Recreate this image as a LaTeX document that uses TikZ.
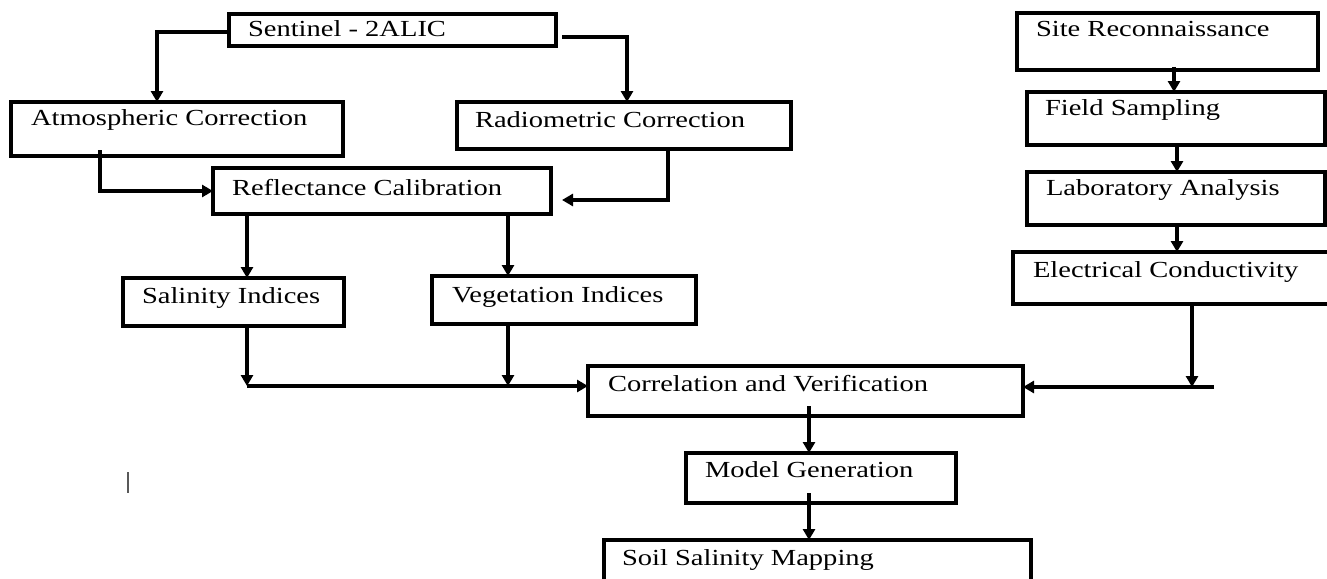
\documentclass[tikz,border=0pt]{standalone}
\usepackage{fontspec}
\setmainfont{Liberation Serif}[FakeStretch=1.24]
\usetikzlibrary{arrows.meta}
\begin{document}
\begin{tikzpicture}[x=1pt,y=-1pt,
  box/.style={draw=black,line width=3.6pt,inner sep=0pt,outer sep=0pt,anchor=north west,fill=none},
  lbl/.style={anchor=base west,inner sep=0pt,outer sep=0pt,font=\fontsize{23}{27}\selectfont},
  arr/.style={line width=3.2pt,-{Triangle[length=11pt,width=12pt]}}]
\clip (0,0) rectangle (1327,578);
\fill[white] (0,0) rectangle (1327,578);
% boxes
\node[box,minimum width=327pt,minimum height=32pt] (sen) at (229,14) {};
\node[box,minimum width=332pt,minimum height=54pt] (atm) at (11,102) {};
\node[box,minimum width=334pt,minimum height=47pt] (rad) at (457,102) {};
\node[box,minimum width=338pt,minimum height=46pt] (ref) at (213,168) {};
\node[box,minimum width=221pt,minimum height=48pt] (sal) at (123,278) {};
\node[box,minimum width=264pt,minimum height=48pt] (veg) at (432,276) {};
\node[box,minimum width=435pt,minimum height=50pt] (cor) at (588,366) {};
\node[box,minimum width=270pt,minimum height=50pt] (mod) at (686,453) {};
\node[box,minimum width=427pt,minimum height=60pt] (soil) at (604,540) {};
\node[box,minimum width=301pt,minimum height=57pt] (site) at (1017,13) {};
\node[box,minimum width=298pt,minimum height=53pt] (field) at (1027,92) {};
\node[box,minimum width=298pt,minimum height=53pt] (lab) at (1027,172) {};
\node[box,minimum width=322pt,minimum height=52pt] (elec) at (1013,252) {};
% labels
\node[lbl] (sen-t) at (248,37) {Sentinel - 2ALIC};
\node[lbl] (atm-t) at (31,125) {Atmospheric Correction};
\node[lbl] (rad-t) at (475,127) {Radiometric Correction};
\node[lbl] (ref-t) at (232,195) {Reflectance Calibration};
\node[lbl] (sal-t) at (142,303) {Salinity Indices};
\node[lbl] (veg-t) at (452,302) {Vegetation Indices};
\node[lbl] (cor-t) at (608,391) {Correlation and Verification};
\node[lbl] (mod-t) at (705,477) {Model Generation};
\node[lbl] (soil-t) at (622,565) {Soil Salinity Mapping};
\node[lbl] (site-t) at (1036,37) {Site Reconnaissance};
\node[lbl] (field-t) at (1045,115) {Field Sampling};
\node[lbl] (lab-t) at (1046,195) {Laboratory Analysis};
\node[lbl] (elec-t) at (1033,277) {Electrical Conductivity};
% bend points and free ends
\coordinate (c1) at (157,32);
\coordinate (c2s) at (562,37);
\coordinate (c2) at (627,37);
\coordinate (c3s) at (100,150);
\coordinate (c3) at (100,191);
\coordinate (c4s) at (668,149);
\coordinate (c4) at (668,200);
\coordinate (c4e) at (562,200);
\coordinate (sx) at (247,0);
\coordinate (vx) at (508,0);
\coordinate (j1) at (247,386);
\coordinate (j2) at (508,386);
\coordinate (ex) at (1192,387);
\coordinate (ee) at (1214,387);
\coordinate (mx) at (809,406);
\coordinate (mx2) at (809,493);
\coordinate (sx1) at (1174,67);
\coordinate (fx) at (1177,0);
% connectors
\draw[arr] (sen.west |- c1) -- (c1) -- (c1 |- atm.north);
\draw[arr] (c2s) -- (c2) -- (c2 |- rad.north);
\draw[arr] (c3s) -- (c3) -- (c3 -| ref.west);
\draw[arr] (c4s) -- (c4) -- (c4e);
\draw[arr] (sx |- ref.south) -- (sx |- sal.north);
\draw[arr] (vx |- ref.south) -- (vx |- veg.north);
\draw[arr] (sx |- sal.south) -- (j1);
\draw[arr] (vx |- veg.south) -- (j2);
\draw[arr] (j1) -- (j1 -| cor.west);
\draw[arr] (ex |- elec.south) -- (ex);
\draw[arr] (ee) -- (ee -| cor.east);
\draw[arr] (mx) -- (mx |- mod.north);
\draw[arr] (mx2) -- (mx2 |- soil.north);
\draw[arr] (sx1) -- (sx1 |- field.north);
\draw[arr] (fx |- field.south) -- (fx |- lab.north);
\draw[arr] (fx |- lab.south) -- (fx |- elec.north);
% stray mark
\draw[line width=2pt,black!65] (128,472) -- (128,493);
\end{tikzpicture}
\end{document}
